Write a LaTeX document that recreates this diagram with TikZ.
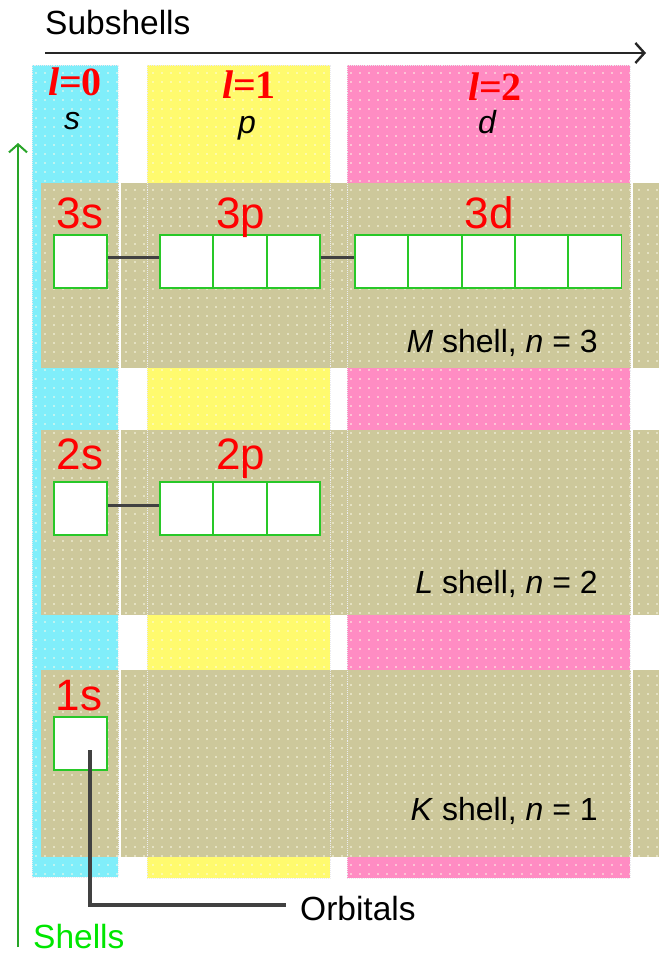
\documentclass[tikz,border=0pt]{standalone}
\usepackage{fontspec}
\setmainfont{Liberation Sans}
\newfontfamily\serifb{Liberation Serif}
\usetikzlibrary{arrows.meta,patterns.meta}

\definecolor{cyanc}{RGB}{128,238,250}
\definecolor{yelc}{RGB}{255,250,110}
\definecolor{pinkc}{RGB}{255,140,195}
\definecolor{tanc}{RGB}{205,200,155}
\definecolor{boxg}{RGB}{40,200,40}
\definecolor{shellg}{RGB}{0,230,0}
\definecolor{arrg}{RGB}{40,165,40}
\definecolor{dotc}{RGB}{252,252,232}
\definecolor{conng}{RGB}{65,65,65}
\definecolor{edgec}{RGB}{235,235,240}

\tikzdeclarepattern{
  name=wdots,
  type=uncolored,
  bottom left={(-1pt,-1pt)},
  top right={(1pt,1pt)},
  tile size={(9pt,9pt)},
  code={\fill (0pt,0pt) circle [radius=0.85pt];}
}

\begin{document}
\begin{tikzpicture}[x=1pt,y=-1pt,
  dotted area/.style={pattern=wdots, pattern color=dotc},
  coledge/.style={draw=edgec, densely dotted, line width=0.9pt},
  orb/.style={draw=boxg, line width=1.8pt, fill=white, minimum width=53.3pt, minimum height=53pt, inner sep=0pt},
  conn/.style={draw=conng, line width=2.8pt},
  redlab/.style={text=red, font=\fontsize{44}{44}\selectfont, inner sep=0pt},
  llab/.style={text=red, font=\fontsize{40}{40}\selectfont\serifb\bfseries, inner sep=0pt},
  sublab/.style={font=\fontsize{32}{32}\selectfont\itshape, inner sep=0pt},
  shelllab/.style={font=\fontsize{32}{32}\selectfont, inner sep=0pt, anchor=base east},
  plain/.style={font=\fontsize{33.5}{33.5}\selectfont, inner sep=0pt}
]
\useasboundingbox (0,0) rectangle (659,955);
\fill[white] (0,0) rectangle (659,955);

% columns
\fill[cyanc] (32,65) rectangle (118,877);
\fill[dotted area] (32,65) rectangle (118,877);
\fill[yelc] (147,65) rectangle (330,878);
\fill[dotted area] (147,65) rectangle (330,878);
\fill[pinkc] (347,65) rectangle (630,878);
\fill[dotted area] (347,65) rectangle (630,878);

% shell bands
\foreach \ya/\yb in {183/368, 430/615, 670/857}{
  \fill[tanc] (41,\ya) rectangle (659,\yb);
  \fill[dotted area] (41,\ya) rectangle (659,\yb);
}

% column edges
\draw[coledge] (32,65) rectangle (118,877);
\draw[coledge] (147,65) rectangle (330,878);
\draw[coledge] (347,65) rectangle (630,878);
\draw[white, line width=1.2pt] (120,65) -- (120,877);
\draw[white, line width=1.2pt] (632,65) -- (632,878);

% axes
\node[plain, anchor=base west] (subshells) at (45,35) {Subshells};
\coordinate (hx0) at (45,53);
\coordinate (hx1) at (646,53);
\draw[line width=2.8pt, black!85, -{Straight Barb[length=9pt, width=20pt, line width=2.4pt]}] (hx0) -- (hx1);

\node[plain, anchor=base west, text=shellg] (shells) at (33,948) {Shells};
\coordinate (vy0) at (18,947);
\coordinate (vy1) at (18,143);
\draw[line width=2pt, arrg, -{Straight Barb[length=8pt, width=18pt, line width=2pt]}] (vy0) -- (vy1);

% subshell headings
\node[llab] (l0) at (75,82) {\itshape l\upshape=0};
\node[llab] (l1) at (249,85) {\itshape l\upshape=1};
\node[llab] (l2) at (495,87) {\itshape l\upshape=2};
\node[sublab, anchor=base] (hs) at (72,130) {s};
\node[sublab, anchor=base] (hp) at (247,133) {p};
\node[sublab, anchor=base] (hd) at (487,134) {d};

% M shell
\node[orb] (s3) at (80.5,261.5) {};
\node[orb] (p3a) at (186.7,261.5) {};
\node[orb] (p3b) at (240,261.5) {};
\node[orb] (p3c) at (293.3,261.5) {};
\node[orb] (d3a) at (381.7,261.5) {};
\node[orb] (d3b) at (435,261.5) {};
\node[orb] (d3c) at (488.3,261.5) {};
\node[orb] (d3d) at (541.6,261.5) {};
\node[orb] (d3e) at (594.9,261.5) {};
\draw[conn] ([yshift=4pt]s3.east) -- ([yshift=4pt]p3a.west);
\draw[conn] ([yshift=4pt]p3c.east) -- ([yshift=4pt]d3a.west);
\node[redlab, anchor=base] (l3s) at (80,228) {3s};
\node[redlab, anchor=base] (l3p) at (241,228) {3p};
\node[redlab, anchor=base] (l3d) at (489,228) {3d};
\node[shelllab] (mshell) at (598,352) {\textit{M} shell, \textit{n} = 3};

% L shell
\node[orb] (s2) at (80.5,508.5) {};
\node[orb] (p2a) at (186.7,508.5) {};
\node[orb] (p2b) at (240,508.5) {};
\node[orb] (p2c) at (293.3,508.5) {};
\draw[conn] ([yshift=3pt]s2.east) -- ([yshift=3pt]p2a.west);
\node[redlab, anchor=base] (l2s) at (80,469) {2s};
\node[redlab, anchor=base] (l2p) at (241,469) {2p};
\node[shelllab] (lshell) at (598,593) {\textit{L} shell, \textit{n} = 2};

% K shell
\node[orb] (s1) at (80.5,743.5) {};
\node[redlab, anchor=base] (l1s) at (79,710) {1s};
\node[shelllab] (kshell) at (598,820) {\textit{K} shell, \textit{n} = 1};

% orbitals callout
\node[plain, anchor=base west] (orbitals) at (300,920) {Orbitals};
\coordinate (ostart) at (90,750);
\coordinate (ocorner) at (90,905);
\draw[conn, line width=3.2pt] (ostart) -- (ocorner) -- ([xshift=-14pt]orbitals.west |- ocorner);
\end{tikzpicture}
\end{document}
